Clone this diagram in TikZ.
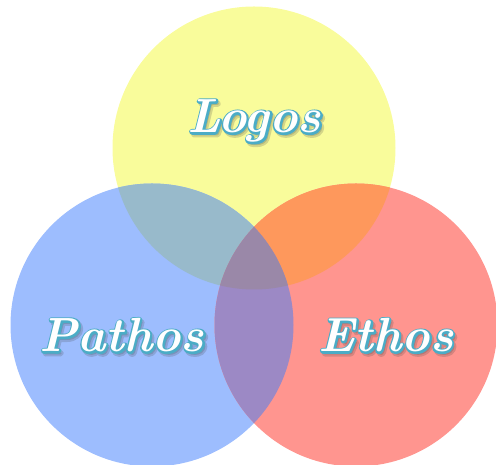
\documentclass[tikz,border=0pt]{standalone}
\usepackage{fontspec}
\definecolor{cy}{HTML}{F9FC9B}
\definecolor{cb}{HTML}{9DBDFE}
\definecolor{cr}{HTML}{FF958F}
\definecolor{cyb}{HTML}{98BACB}
\definecolor{cyr}{HTML}{FE985C}
\definecolor{cbr}{HTML}{9C89C5}
\definecolor{cybr}{HTML}{9A88A8}
\newcommand\ringed[1]{\special{pdf:literal direct 2 Tr 3.6 w 1 j 1 J 0.294 0.675 0.776 rg 0.294 0.675 0.776 RG}#1\special{pdf:literal direct 0 Tr 1 w 0 g 0 G}}
\newcommand\whitefill[1]{\special{pdf:literal direct 0 Tr 1 1 1 rg}#1\special{pdf:literal direct 0 g}}
\newcommand\shaded[1]{\special{pdf:literal direct 2 Tr 4 w 1 j 1 J 0.25 0.25 0.25 rg 0.25 0.25 0.25 RG}#1\special{pdf:literal direct 0 Tr 1 w 0 g 0 G}}
\tikzset{
  word/.style={anchor=base, inner sep=0pt, font=\fontsize{48}{50}\selectfont\bfseries\itshape},
}
\begin{document}
\begin{tikzpicture}[x=1pt,y=1pt]
\useasboundingbox (0,0) rectangle (496,465);
\coordinate (Y) at (254,317);
\coordinate (B) at (152,140);
\coordinate (R) at (356,140);
\def\rad{141.5}
\fill[cy] (Y) circle (\rad);
\fill[cb] (B) circle (\rad);
\fill[cr] (R) circle (\rad);
\begin{scope}
  \clip (Y) circle (\rad);
  \fill[cyb] (B) circle (\rad);
  \fill[cyr] (R) circle (\rad);
\end{scope}
\begin{scope}
  \clip (B) circle (\rad);
  \fill[cbr] (R) circle (\rad);
  \clip (R) circle (\rad);
  \fill[cybr] (Y) circle (\rad);
\end{scope}
\begin{scope}[opacity=0.2]
\node[word] (logosS) at (256.5,329.5) {\shaded{Logos}};
\node[word] (pathosS) at (124,110.5) {\shaded{Pathos}};
\node[word] (ethosS) at (388,110.5) {\shaded{Ethos}};
\end{scope}
\node[word] (logosR) at (254.5,332) {\ringed{Logos}};
\node[word] (pathosR) at (122,113) {\ringed{Pathos}};
\node[word] (ethosR) at (386,113) {\ringed{Ethos}};
\node[word] (logos) at (254.5,332) {\whitefill{Logos}};
\node[word] (pathos) at (122,113) {\whitefill{Pathos}};
\node[word] (ethos) at (386,113) {\whitefill{Ethos}};
\end{tikzpicture}
\end{document}
